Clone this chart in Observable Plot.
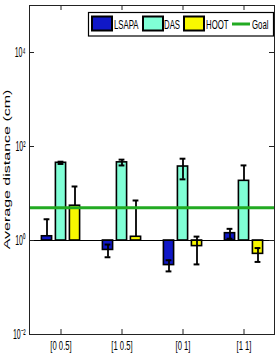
<!DOCTYPE html>
<html><head><meta charset="utf-8">
<script src="https://cdn.jsdelivr.net/npm/d3@7"></script>
<script src="https://cdn.jsdelivr.net/npm/@observablehq/plot@0.6"></script>
<style>body{margin:0;background:#fff;} svg{display:block;}</style>
</head><body><div id="chart"></div>
<script>
const categories = ["[0 0.5]", "[1 0.5]", "[0 1]", "[1 1]"];
const series = ["LSAPA", "DAS", "HOOT"];
const lsapaMean = [1.23, 0.63, 0.30, 1.43];
const lsapaErr  = [1.6, 0.19, 0.08, 0.34];
const dasMean   = [45, 46, 37.5, 18.6];
const dasErr    = [2.5, 6.5, 17.5, 21];
const hootMean  = [5.5, 1.2, 0.76, 0.52];
const hootErr   = [8.6, 5.9, 0.45, 0.17];
const goal = 5;
const goalLabel = "Goal";
const yTicks = [1e-2, 1, 1e2, 1e4];
const colors = ["#1018c8", "#80ffd6", "#f8f800"];
const goalColor = "#22aa22";
const yLabel = "Average distance (cm)";

const means = [lsapaMean, dasMean, hootMean];
const errs = [lsapaErr, dasErr, hootErr];
const rows = [];
series.forEach((s, j) => categories.forEach((c, i) => {
  const m = means[j][i], e = errs[j][i];
  rows.push({cat: c, series: s, value: m, hi: m + e, lo: m - e > 0 ? m - e : m});
}));

const offsets = [-14, 0, 14];
const sup = {"-": "\u207B", "0": "\u2070", "1": "\u00B9", "2": "\u00B2", "3": "\u00B3", "4": "\u2074", "5": "\u2075"};
const fmt = d => "10" + String(Math.round(Math.log10(d))).split("").map(ch => sup[ch]).join("");

const marks = [];
series.forEach((s, j) => {
  const d = rows.filter(r => r.series === s);
  marks.push(Plot.barY(d, {x: "cat", y1: () => 1, y2: "value", fill: colors[j], stroke: "black", strokeWidth: 1.6, insetLeft: 25.4, insetRight: 25.4, dx: offsets[j]}));
});
marks.push(Plot.ruleY([1], {stroke: "black", strokeWidth: 1}));
series.forEach((s, j) => {
  const d = rows.filter(r => r.series === s);
  marks.push(Plot.ruleX(d, {x: "cat", y1: "lo", y2: "hi", stroke: "black", strokeWidth: 1.8, dx: offsets[j]}));
  marks.push(Plot.tickY(d, {x: "cat", y: "hi", stroke: "black", strokeWidth: 2, insetLeft: 27.6, insetRight: 27.6, dx: offsets[j]}));
  marks.push(Plot.tickY(d.filter(r => r.lo < r.value), {x: "cat", y: "lo", stroke: "black", strokeWidth: 2, insetLeft: 27.6, insetRight: 27.6, dx: offsets[j]}));
});
marks.push(Plot.ruleY([goal], {stroke: goalColor, strokeWidth: 3}));
// inward ticks
marks.push(Plot.tickY(yTicks, {y: d => d, stroke: "#222", insetRight: 240}));
marks.push(Plot.tickY(yTicks, {y: d => d, stroke: "#222", insetLeft: 240}));
marks.push(Plot.tickX(categories, {x: d => d, stroke: "#222", insetTop: 324}));
marks.push(Plot.tickX(categories, {x: d => d, stroke: "#222", insetBottom: 324}));
marks.push(Plot.frame({stroke: "#222"}));

const svg = Plot.plot({
  width: 275, height: 354,
  marginLeft: 29, marginRight: 1, marginTop: 5, marginBottom: 20,
  style: {fontFamily: "'Liberation Sans', Arial, sans-serif", fontSize: "11px", color: "black", background: "white"},
  x: {type: "band", domain: categories, padding: 0, label: null, tickSize: 0, tickPadding: 7},
  y: {type: "log", domain: [1e-2, 1e5], ticks: yTicks, tickFormat: fmt, label: null, tickSize: 0, tickPadding: 4},
  marks
});
document.getElementById("chart").append(svg);

const S = d3.select(svg);
function squeeze(sel, k) {
  sel.each(function() {
    const L = this.getComputedTextLength();
    if (L > 0) { this.setAttribute("textLength", (L * k).toFixed(2)); this.setAttribute("lengthAdjust", "spacingAndGlyphs"); }
  });
}
const xt = S.selectAll('[aria-label^="x-axis"] text').style("font-size", "12px");
const yt = S.selectAll('[aria-label^="y-axis"] text').style("font-size", "14px");
squeeze(xt, 0.64);
squeeze(yt, 0.5);

// legend
const lg = S.append("g").attr("font-family", "'Liberation Sans', Arial, sans-serif").attr("font-size", 13).attr("fill", "black");
lg.append("rect").attr("x", 88.5).attr("y", 12.5).attr("width", 185).attr("height", 23.5).attr("fill", "white").attr("stroke", "black").attr("stroke-width", 1.2);
const swX = [92, 143, 184], txX = [114, 164, 206];
function legendText(x, label) {
  lg.append("g").attr("transform", `translate(${x},28.5) scale(0.6,1)`)
    .append("text").attr("text-anchor", "start").text(label);
}
series.forEach((s, j) => {
  lg.append("rect").attr("x", swX[j]).attr("y", 16.5).attr("width", 20).attr("height", 14).attr("fill", colors[j]).attr("stroke", "black").attr("stroke-width", 2);
  legendText(txX[j], s);
});
lg.append("line").attr("x1", 232).attr("x2", 250).attr("y1", 24).attr("y2", 24).attr("stroke", goalColor).attr("stroke-width", 3);
legendText(252, goalLabel);

// y label (rotated, glyphs squeezed across)
S.append("text")
  .attr("transform", "translate(10,169.5) rotate(-90) scale(1,0.6)")
  .attr("text-anchor", "middle")
  .attr("font-family", "'Liberation Sans', Arial, sans-serif")
  .attr("font-size", 16)
  .attr("fill", "black")
  .text(yLabel);
</script>
</body></html>
